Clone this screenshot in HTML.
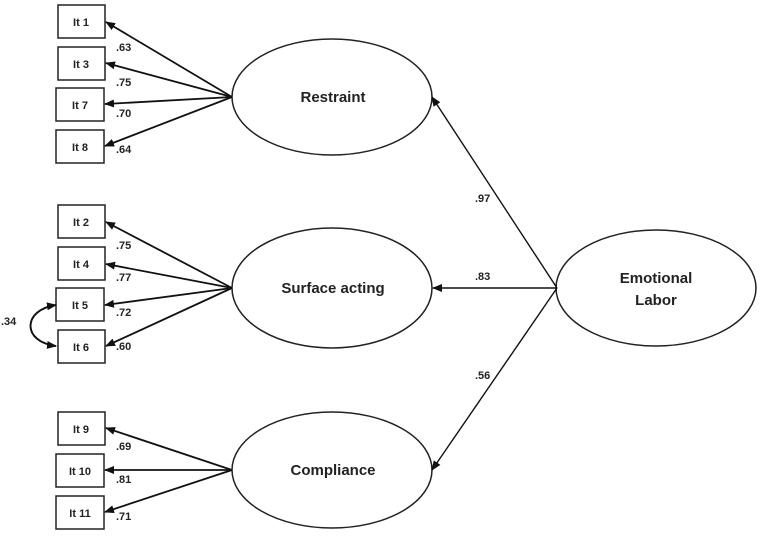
<!DOCTYPE html>
<html><head><style>body{margin:0;background:#fff}svg{display:block}text{font-family:"Liberation Sans",sans-serif;font-weight:bold;fill:#222}</style></head><body>
<svg width="762" height="554" viewBox="0 0 762 554" xmlns="http://www.w3.org/2000/svg">
<defs><marker id="a" markerWidth="10" markerHeight="8" refX="9" refY="4" orient="auto" markerUnits="userSpaceOnUse"><path d="M0,0 L10,4 L0,8 z" fill="#111"/></marker></defs>
<g fill="#fff" stroke="#222" stroke-width="1.5">
<rect x="58" y="5" width="47" height="33"/><rect x="58" y="47" width="47" height="33"/><rect x="56" y="88" width="48" height="33"/><rect x="56" y="130" width="48" height="33"/>
<rect x="58" y="205" width="47" height="33"/><rect x="58" y="247" width="47" height="33"/><rect x="56" y="288" width="48" height="33"/><rect x="58" y="330" width="47" height="33"/>
<rect x="58" y="412" width="47" height="33"/><rect x="56" y="454" width="48" height="33"/><rect x="56" y="496" width="48" height="33"/>
<ellipse cx="332" cy="97" rx="100" ry="58"/><ellipse cx="332" cy="288" rx="100" ry="60"/><ellipse cx="332" cy="470" rx="100" ry="58"/><ellipse cx="656" cy="288" rx="100" ry="58"/>
</g>
<g stroke="#111" stroke-width="1.8" marker-end="url(#a)" fill="none">
<line x1="232" y1="97" x2="106" y2="22"/><line x1="232" y1="97" x2="106" y2="63"/><line x1="232" y1="97" x2="105" y2="104"/><line x1="232" y1="97" x2="105" y2="146"/>
<line x1="232" y1="288" x2="106" y2="222"/><line x1="232" y1="288" x2="106" y2="264"/><line x1="232" y1="288" x2="105" y2="305"/><line x1="232" y1="288" x2="106" y2="346"/>
<line x1="232" y1="470" x2="106" y2="428"/><line x1="232" y1="470" x2="105" y2="470"/><line x1="232" y1="470" x2="105" y2="512"/>
<line x1="557" y1="288" x2="432" y2="97" stroke-width="1.4"/><line x1="557" y1="288" x2="433" y2="288" stroke-width="1.4"/><line x1="557" y1="288" x2="432" y2="470" stroke-width="1.4"/>
<path d="M56,305 C22,310 22,342 56,346"/>
<path d="M56,346 C22,342 22,310 56,305"/>
</g>
<g font-size="11" text-anchor="middle">
<text x="81" y="26">It 1</text><text x="81" y="68">It 3</text><text x="80" y="109">It 7</text><text x="80" y="151">It 8</text>
<text x="81" y="226">It 2</text><text x="81" y="268">It 4</text><text x="80" y="309">It 5</text><text x="81" y="351">It 6</text>
<text x="81" y="433">It 9</text><text x="80" y="475">It 10</text><text x="80" y="517">It 11</text>
</g>
<g font-size="11">
<text x="116" y="51">.63</text><text x="116" y="86">.75</text><text x="116" y="117">.70</text><text x="116" y="153">.64</text>
<text x="116" y="249">.75</text><text x="116" y="281">.77</text><text x="116" y="316">.72</text><text x="116" y="350">.60</text>
<text x="1" y="325">.34</text>
<text x="116" y="450">.69</text><text x="116" y="483">.81</text><text x="116" y="520">.71</text>
<text x="475" y="202">.97</text><text x="475" y="280">.83</text><text x="475" y="379">.56</text>
</g>
<g font-size="15" text-anchor="middle">
<text x="333" y="102">Restraint</text><text x="333" y="293">Surface acting</text><text x="333" y="475">Compliance</text>
<text x="656" y="283">Emotional</text><text x="656" y="305">Labor</text>
</g>
</svg>
</body></html>
